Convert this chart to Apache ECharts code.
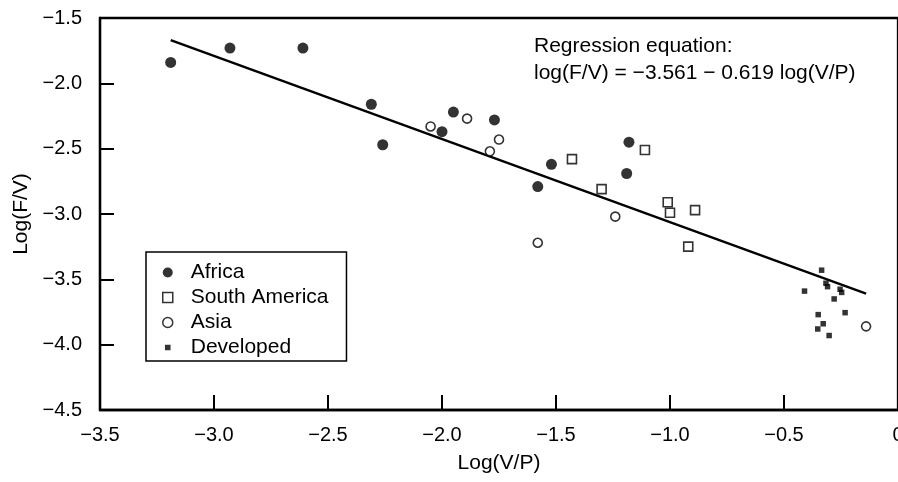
<!DOCTYPE html>
<html>
<head>
<meta charset="utf-8">
<script src="https://cdn.jsdelivr.net/npm/echarts@6/dist/echarts.min.js"></script>
<style>html,body{margin:0;padding:0;background:#fff}#c{width:898px;height:482px}</style>
</head>
<body>
<div id="c"></div>
<script>
const africaX = [-3.19, -2.93, -2.61, -2.31, -2.26, -2.00, -1.95, -1.77, -1.18, -1.19, -1.52, -1.58];
const africaY = [-1.84, -1.73, -1.73, -2.16, -2.47, -2.37, -2.22, -2.28, -2.45, -2.69, -2.62, -2.79];
const samX = [-1.43, -1.11, -1.30, -1.01, -1.00, -0.89, -0.92];
const samY = [-2.58, -2.51, -2.81, -2.91, -2.99, -2.97, -3.25];
const asiaX = [-2.05, -1.89, -1.75, -1.79, -1.24, -1.58, -0.14];
const asiaY = [-2.33, -2.27, -2.43, -2.52, -3.02, -3.22, -3.86];
const devX = [-0.335, -0.41, -0.316, -0.309, -0.254, -0.247, -0.28, -0.232, -0.35, -0.328, -0.352, -0.302];
const devY = [-3.43, -3.59, -3.53, -3.556, -3.576, -3.60, -3.65, -3.755, -3.77, -3.84, -3.88, -3.93];
const regX = [-3.19, -0.14];
const regY = [-1.67, -3.61];
const seriesNames = ['Africa', 'South America', 'Asia', 'Developed'];
const xTicks = { min: -3.5, max: 0, step: 0.5 };
const yTicks = { min: -4.5, max: -1.5, step: 0.5 };
const equationLines = ['Regression equation:', 'log(F/V) = \u22123.561 \u2212 0.619 log(V/P)'];

const FONT = "'Liberation Sans', Arial, Helvetica, sans-serif";
const zip = (xs, ys) => xs.map((x, i) => [x, ys[i]]);
const fmt = v => v === 0 ? '0' : (v < 0 ? '\u2212' : '') + Math.abs(v).toFixed(1);

const chart = echarts.init(document.getElementById('c'), null, { renderer: 'canvas' });
const openStyle = { color: '#fff', borderColor: '#000', borderWidth: 1.6 };
chart.setOption({
  animation: false,
  backgroundColor: '#fff',
  textStyle: { fontFamily: FONT, color: '#000' },
  grid: { left: 100, right: 0, top: 18, bottom: 72, containLabel: false, outerBoundsMode: 'none',
          show: true, borderColor: '#000', borderWidth: 2.3, backgroundColor: 'transparent' },
  xAxis: {
    type: 'value', min: xTicks.min, max: xTicks.max, interval: xTicks.step,
    name: 'Log(V/P)', nameLocation: 'middle', nameGap: 43,
    nameTextStyle: { fontSize: 21, color: '#000', fontFamily: FONT },
    axisLine: { onZero: false, lineStyle: { color: '#000', width: 2.3 } },
    axisTick: { inside: true, length: 15, lineStyle: { color: '#000', width: 2 } },
    axisLabel: { fontSize: 20, color: '#000', margin: 15, formatter: fmt, fontFamily: FONT, hideOverlap: false },
    splitLine: { show: false }
  },
  yAxis: {
    type: 'value', min: yTicks.min, max: yTicks.max, interval: yTicks.step,
    name: 'Log(F/V)', nameLocation: 'middle', nameGap: 68, nameRotate: 90,
    nameTextStyle: { fontSize: 21, color: '#000', fontFamily: FONT },
    axisLine: { onZero: false, lineStyle: { color: '#000', width: 2.3 } },
    axisTick: { inside: true, length: 14, lineStyle: { color: '#000', width: 2 } },
    axisLabel: { fontSize: 20, color: '#000', margin: 18, formatter: fmt, fontFamily: FONT },
    splitLine: { show: false }
  },
  legend: {
    orient: 'vertical', left: 146, top: 252,
    padding: [10, 18, 3, 16],
    itemWidth: 36, itemHeight: 10, itemGap: 4,
    borderColor: '#000', borderWidth: 1.5, backgroundColor: '#fff',
    textStyle: { fontSize: 21, color: '#000', fontFamily: FONT, lineHeight: 21 },
    data: [
      { name: 'Africa', icon: 'circle', itemStyle: { color: '#000', borderWidth: 0 } },
      { name: 'South America', icon: 'path://M0,0h10v10h-10z', itemStyle: { color: '#fff', borderColor: '#000', borderWidth: 1.5 } },
      { name: 'Asia', icon: 'circle', itemStyle: { color: '#fff', borderColor: '#000', borderWidth: 1.5 } },
      { name: 'Developed', icon: 'path://M0,0L0.01,0L0,0.01Z M2.2,2.2h5.6v5.6h-5.6z M10,10L9.99,10L10,9.99Z', itemStyle: { color: '#000', borderWidth: 0 } }
    ]
  },
  graphic: [{
    type: 'text', left: 534, top: 32, z: 10,
    style: { text: equationLines.join('\n'), font: '21px ' + FONT, fill: '#000', lineHeight: 27.5 }
  }],
  series: [
    {
      type: 'line', name: 'regression', data: zip(regX, regY), showSymbol: false, symbol: 'none',
      lineStyle: { color: '#000', width: 2.4 }, z: 1, silent: true
    },
    { type: 'scatter', name: seriesNames[0], data: zip(africaX, africaY), symbol: 'circle', symbolSize: 11, itemStyle: { color: '#000' }, z: 3 },
    { type: 'scatter', name: seriesNames[1], data: zip(samX, samY), symbol: 'rect', symbolSize: 9, itemStyle: openStyle, z: 3 },
    { type: 'scatter', name: seriesNames[2], data: zip(asiaX, asiaY), symbol: 'circle', symbolSize: 9, itemStyle: openStyle, z: 3 },
    { type: 'scatter', name: seriesNames[3], data: zip(devX, devY), symbol: 'rect', symbolSize: 5.5, itemStyle: { color: '#000' }, z: 3 }
  ]
});
</script>
</body>
</html>
